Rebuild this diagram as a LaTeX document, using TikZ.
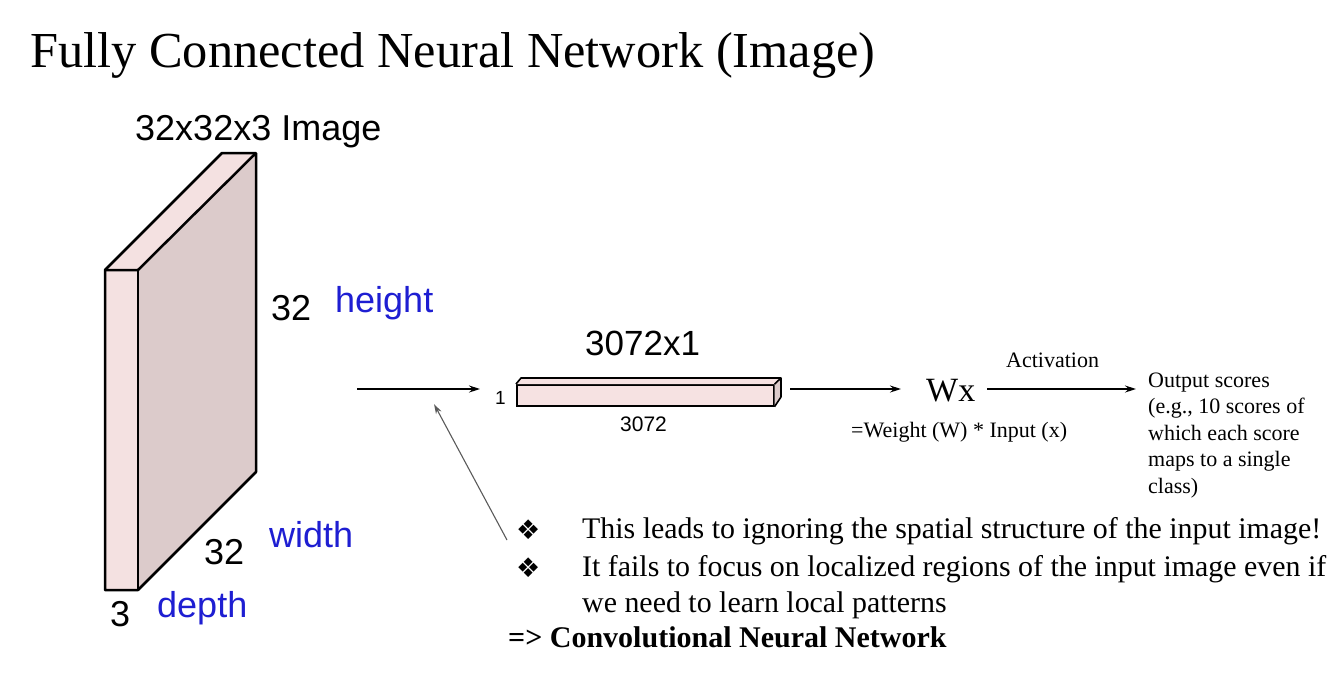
\documentclass[tikz,border=0pt]{standalone}
\usepackage{fontspec}
\setmainfont{Liberation Serif}
\newfontfamily\arial{Liberation Sans}
\newfontfamily\dejavu{DejaVu Sans}
\usetikzlibrary{arrows.meta}
\definecolor{lblblue}{RGB}{30,30,210}
\definecolor{frontpink}{RGB}{244,225,225}
\definecolor{sidepink}{RGB}{220,203,203}
\definecolor{barpink}{RGB}{246,226,226}
\definecolor{guidegray}{RGB}{90,90,90}
\tikzset{
  sanslbl/.style={inner sep=0pt, anchor=base west, font=\arial\fontsize{36}{40}\selectfont},
  serif/.style={inner sep=0pt, anchor=base west},
  boxline/.style={draw=black, line width=2.5pt, line join=round},
  barline/.style={draw=black, line width=1.6pt, line join=round},
  flow/.style={line width=1.3pt, -{Stealth[length=11pt,width=7pt]}},
}
\begin{document}
\begin{tikzpicture}[x=1pt,y=-1pt]
\useasboundingbox (0,0) rectangle (1343,691);
% title
\node[serif, font=\fontsize{50.4}{58}\selectfont] (title) at (30,67) {Fully Connected Neural Network (Image)};
% 3D image block
\fill[sidepink] (138,270) -- (256,153) -- (256,472) -- (138,590) -- cycle;
\fill[frontpink] (105,270) -- (222,153) -- (256,153) -- (138,270) -- cycle;
\fill[frontpink] (105,270) rectangle (138,590);
\draw[boxline] (105,270) -- (222,153) -- (256,153) -- (256,472) -- (138,590) -- (105,590) -- cycle;
\draw[boxline] (105,270) -- (138,270) -- (256,153);
\draw[boxline] (138,270) -- (138,590);
\node[sanslbl] (imgtitle) at (135,140) {32x32x3 Image};
\node[sanslbl] (h32) at (271,320) {32};
\node[sanslbl, text=lblblue] (height) at (335,312) {height};
\node[sanslbl] (w32) at (204,564) {32};
\node[sanslbl, text=lblblue] (width) at (269,547) {width};
\node[sanslbl] (d3) at (110,626) {3};
\node[sanslbl, text=lblblue] (depth) at (157,617) {depth};
% flat bar
\node[draw=black, line width=1.6pt, fill=barpink, minimum width=257pt, minimum height=21pt, inner sep=0pt, anchor=north west] (bar) at (516,384) {};
\fill[barpink] (bar.north west) -- ++(5,-6) -- (781,378) -- (bar.north east) -- cycle;
\fill[sidepink] (bar.north east) -- (781,378) -- (781,397) -- (bar.south east) -- cycle;
\draw[barline] (bar.north west) -- ++(5,-6) -- (781,378) -- (bar.north east);
\draw[barline] (781,378) -- (781,397) -- (bar.south east);
\node[sanslbl, font=\arial\fontsize{35}{40}\selectfont] (barsize) at (585,355) {3072x1};
\node[sanslbl, font=\arial\fontsize{19}{22}\selectfont] (one) at (495,404) {1};
\node[sanslbl, font=\arial\fontsize{21}{24}\selectfont] (len) at (620,431) {3072};
% flow
\coordinate (a1) at (357,389);
\coordinate (a1e) at (480,389);
\draw[flow] (a1) -- (a1e);
\node[serif, font=\fontsize{34}{40}\selectfont] (wx) at (926,401) {Wx};
\coordinate (a2) at (790,389);
\coordinate (a2e) at (901,389);
\draw[flow] (a2) -- (a2e);
\node[serif, font=\fontsize{22}{26}\selectfont] (act) at (1006,367) {Activation};
\node[serif, font=\fontsize{22}{26}\selectfont] (weight) at (851,437) {=Weight (W) * Input (x)};
\coordinate (a3) at (987,389);
\coordinate (a3e) at (1136,389);
\draw[flow] (a3) -- (a3e);
\node[serif, font=\fontsize{22}{26.5}\selectfont, anchor=base west, align=left, inner sep=0pt] (out) at (1148,493) {Output scores\\(e.g., 10 scores of\\which each score\\maps to a single\\class)};
% guide arrow
\coordinate (g1) at (507,540);
\coordinate (g2) at (434,404);
\draw[guidegray, line width=1.1pt, -{Stealth[length=10pt,width=6pt]}] (g1) -- (g2);
% bullets
\node[serif, font=\dejavu\fontsize{27}{30}\selectfont] (b1) at (516,539) {❖};
\node[serif, font=\dejavu\fontsize{27}{30}\selectfont] (b2) at (516,577) {❖};
\node[serif, font=\fontsize{29.9}{34}\selectfont] (t1) at (582,538) {This leads to ignoring the spatial structure of the input image!};
\node[serif, font=\fontsize{29.9}{34}\selectfont] (t2) at (582,576) {It fails to focus on localized regions of the input image even if};
\node[serif, font=\fontsize{29.9}{34}\selectfont] (t3) at (582,612) {we need to learn local patterns};
\node[serif, font=\bfseries\fontsize{30}{34}\selectfont] (cnn) at (508,647) {=> Convolutional Neural Network};
\end{tikzpicture}
\end{document}
